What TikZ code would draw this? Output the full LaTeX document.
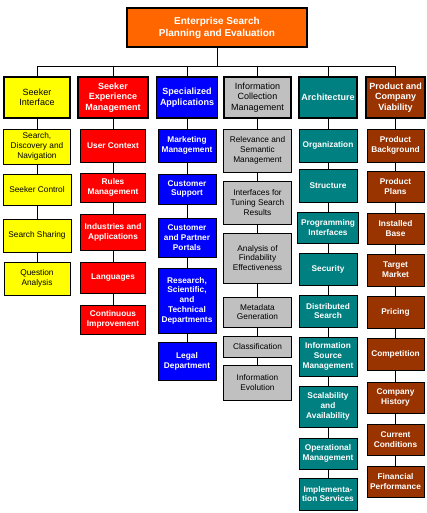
\documentclass[tikz,border=0pt]{standalone}
\usepackage{fontspec}
\setmainfont{Liberation Sans}
\definecolor{cyel}{HTML}{FFFF00}
\definecolor{cred}{HTML}{FF0000}
\definecolor{cblu}{HTML}{0000FF}
\definecolor{cgry}{HTML}{C0C0C0}
\definecolor{ctea}{HTML}{008080}
\definecolor{cbrn}{HTML}{993300}
\definecolor{corg}{HTML}{FF6600}
\tikzset{
  cbox/.style={draw=black, line width=0.8pt, inner sep=0pt, align=center, font=\fontsize{8.3}{9.8}\selectfont},
  hbox/.style={draw=black, line width=1.6pt, inner sep=0pt, align=center, minimum height=41pt, font=\fontsize{9}{10.5}\selectfont},
  yel/.style={fill=cyel, text=black},
  rd/.style={fill=cred, text=white, execute at begin node=\bfseries},
  bl/.style={fill=cblu, text=white, execute at begin node=\bfseries},
  gr/.style={fill=cgry, text=black},
  te/.style={fill=ctea, text=white, execute at begin node=\bfseries},
  br/.style={fill=cbrn, text=white, execute at begin node=\bfseries},
  link/.style={draw=black, line width=0.8pt},
}
\begin{document}
\begin{tikzpicture}[x=1pt,y=-1pt]
\useasboundingbox (0,0) rectangle (427,513);
% top
\node[draw=black, line width=2pt, fill=corg, text=white, inner sep=0pt, align=center,
  minimum width=180pt, minimum height=39pt, font=\fontsize{10}{12}\selectfont\bfseries]
  (top) at (217,27.5) {Enterprise Search\\Planning and Evaluation};
\coordinate (barL) at (37,66);
\coordinate (barR) at (395.5,66);
\coordinate (barM) at (217,66);
% column 1
\node[hbox,yel,minimum width=66pt] (h1) at (37,97.5) {Seeker\\Interface};
\node[cbox,yel,minimum width=67pt,minimum height=35pt] (a1) at (37,146.5) {Search,\\Discovery and\\Navigation};
\node[cbox,yel,minimum width=68pt,minimum height=31pt] (a2) at (37,189.5) {Seeker Control};
\node[cbox,yel,minimum width=68pt,minimum height=33pt] (a3) at (37,235.5) {Search Sharing};
\node[cbox,yel,minimum width=66pt,minimum height=33pt] (a4) at (37,278.5) {Question\\Analysis};
% column 2
\node[hbox,rd,minimum width=70pt] (h2) at (113,97.5) {Seeker\\Experience\\Management};
\node[cbox,rd,minimum width=65pt,minimum height=33pt] (b1) at (113,145.5) {User Context};
\node[cbox,rd,minimum width=65pt,minimum height=29pt] (b2) at (113,187.5) {Rules\\Management};
\node[cbox,rd,minimum width=65pt,minimum height=36pt] (b3) at (113,232) {Industries and\\Applications};
\node[cbox,rd,minimum width=65pt,minimum height=31pt] (b4) at (113,277.5) {Languages};
\node[cbox,rd,minimum width=65pt,minimum height=29pt] (b5) at (113,319.5) {Continuous\\Improvement};
% column 3
\node[hbox,bl,minimum width=61pt] (h3) at (187,97.5) {Specialized\\Applications};
\node[cbox,bl,minimum width=58pt,minimum height=33pt] (c1) at (187,145.5) {Marketing\\Management};
\node[cbox,bl,minimum width=58pt,minimum height=30pt] (c2) at (187,189) {Customer\\Support};
\node[cbox,bl,minimum width=58pt,minimum height=39pt] (c3) at (187,237.5) {Customer\\and Partner\\Portals};
\node[cbox,bl,minimum width=58pt,minimum height=65pt] (c4) at (187,300.5) {Research,\\Scientific,\\and\\Technical\\Departments};
\node[cbox,bl,minimum width=58pt,minimum height=38pt] (c5) at (187,361) {Legal\\Department};
% column 4
\node[hbox,gr,minimum width=67pt] (h4) at (257.5,97.5) {Information\\Collection\\Management};
\node[cbox,gr,minimum width=68pt,minimum height=43pt] (d1) at (257.5,150.5) {Relevance and\\Semantic\\Management};
\node[cbox,gr,minimum width=68pt,minimum height=43pt] (d2) at (257.5,202.5) {Interfaces for\\Tuning Search\\Results};
\node[cbox,gr,minimum width=68pt,minimum height=50pt] (d3) at (257.5,258) {Analysis of\\Findability\\Effectiveness};
\node[cbox,gr,minimum width=68pt,minimum height=30pt] (d4) at (257.5,312) {Metadata\\Generation};
\node[cbox,gr,minimum width=68pt,minimum height=21pt] (d5) at (257.5,346.5) {Classification};
\node[cbox,gr,minimum width=68pt,minimum height=35pt] (d6) at (257.5,382.5) {Information\\Evolution};
% column 5
\node[hbox,te,minimum width=58pt] (h5) at (328,97.5) {Architecture};
\node[cbox,te,minimum width=58pt,minimum height=33pt] (e1) at (328,145.5) {Organization};
\node[cbox,te,minimum width=58pt,minimum height=33pt] (e2) at (328,185.5) {Structure};
\node[cbox,te,minimum width=61pt,minimum height=31pt] (e3) at (328,227.5) {Programming\\Interfaces};
\node[cbox,te,minimum width=58pt,minimum height=32pt] (e4) at (328,269) {Security};
\node[cbox,te,minimum width=58pt,minimum height=32pt] (e5) at (328,311) {Distributed\\Search};
\node[cbox,te,minimum width=58pt,minimum height=39pt] (e6) at (328,356.5) {Information\\Source\\Management};
\node[cbox,te,minimum width=58pt,minimum height=41pt] (e7) at (328,406.5) {Scalability\\and\\Availability};
\node[cbox,te,minimum width=58pt,minimum height=31pt] (e8) at (328,453.5) {Operational\\Management};
\node[cbox,te,minimum width=58pt,minimum height=32pt] (e9) at (328,494) {Implementa-\\tion Services};
% column 6
\node[hbox,br,minimum width=59pt] (h6) at (395.5,97.5) {Product and\\Company\\Viability};
\node[cbox,br,minimum width=57pt,minimum height=33pt] (f1) at (395.5,145.5) {Product\\Background};
\node[cbox,br,minimum width=57pt,minimum height=31pt] (f2) at (395.5,186.5) {Product\\Plans};
\node[cbox,br,minimum width=57pt,minimum height=31pt] (f3) at (395.5,228.5) {Installed\\Base};
\node[cbox,br,minimum width=57pt,minimum height=32pt] (f4) at (395.5,270) {Target\\Market};
\node[cbox,br,minimum width=57pt,minimum height=32pt] (f5) at (395.5,312) {Pricing};
\node[cbox,br,minimum width=57pt,minimum height=32pt] (f6) at (395.5,354) {Competition};
\node[cbox,br,minimum width=57pt,minimum height=31pt] (f7) at (395.5,397.5) {Company\\History};
\node[cbox,br,minimum width=57pt,minimum height=31pt] (f8) at (395.5,439.5) {Current\\Conditions};
\node[cbox,br,minimum width=57pt,minimum height=31pt] (f9) at (395.5,481.5) {Financial\\Performance};
% connectors
\draw[link] (top.south) -- (barM);
\draw[link] (barL) -- (barR);
\foreach \h in {h1,h2,h3,h4,h5,h6}{
  \draw[link] (\h.north) -- (\h.north |- barL);
}
\foreach \p/\q in {h1/a1,a1/a2,a2/a3,a3/a4,
  h2/b1,b1/b2,b2/b3,b3/b4,b4/b5,
  h3/c1,c1/c2,c2/c3,c3/c4,c4/c5,
  h4/d1,d1/d2,d2/d3,d3/d4,d4/d5,d5/d6,
  h5/e1,e1/e2,e2/e3,e3/e4,e4/e5,e5/e6,e6/e7,e7/e8,e8/e9,
  h6/f1,f1/f2,f2/f3,f3/f4,f4/f5,f5/f6,f6/f7,f7/f8,f8/f9}{
  \draw[link] (\p.south) -- (\q.north);
}
\end{tikzpicture}
\end{document}
